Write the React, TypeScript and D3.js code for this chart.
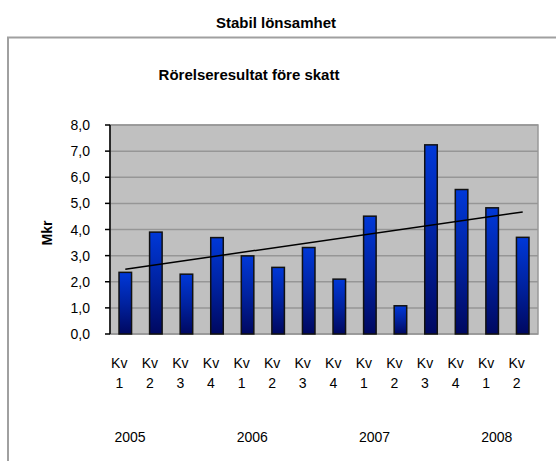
import React from "react";
import * as d3 from "d3";

// data
const quarters = ["1", "2", "3", "4", "1", "2", "3", "4", "1", "2", "3", "4", "1", "2"];
const years = ["2005", "2006", "2007", "2008"];
const values = [2.36, 3.9, 2.29, 3.69, 2.99, 2.55, 3.31, 2.1, 4.51, 1.08, 7.24, 5.53, 4.83, 3.7];
const yTicks = [0, 1, 2, 3, 4, 5, 6, 7, 8];

const W = 556;
const H = 461;
const plot = { left: 110, right: 538, top: 125, bottom: 334 };
const font = "Liberation Sans, Arial, sans-serif";

export default function App() {
  const idx = values.map((_, i) => i);
  const x = d3
    .scaleBand<number>()
    .domain(idx)
    .range([plot.left, plot.right])
    .paddingInner(0.59)
    .paddingOuter(0.295);
  const step = x.step();
  const y = d3.scaleLinear().domain([0, 8]).range([plot.bottom, plot.top]);

  // linear trend line (least squares)
  const mx = d3.mean(idx) as number;
  const my = d3.mean(values) as number;
  const sxy = d3.sum(idx, (i) => (i - mx) * (values[i] - my));
  const sxx = d3.sum(idx, (i) => (i - mx) * (i - mx));
  const slope = sxy / sxx;
  const icpt = my - slope * mx;
  const cx = (i: number) => (x(i) as number) + x.bandwidth() / 2;
  const trend = d3
    .line<number>()
    .x((i) => cx(i))
    .y((i) => y(icpt + slope * i));

  const fmt = (v: number) => v.toFixed(1).replace(".", ",");

  return (
    <svg
      width={W}
      height={H}
      style={{ position: "absolute", left: 0, top: 0, background: "#fff" }}
    >
      <defs>
        <linearGradient id="barGrad" x1="0" y1="0" x2="0" y2="1">
          <stop offset="0%" stopColor="#0038d8" />
          <stop offset="50%" stopColor="#0022a0" />
          <stop offset="100%" stopColor="#000860" />
        </linearGradient>
      </defs>

      <text
        x={276}
        y={28}
        textAnchor="middle"
        fontFamily={font}
        fontWeight="bold"
        fontSize={15}
      >
        Stabil lönsamhet
      </text>

      <rect x={8} y={37.5} width={600} height={500} fill="none" stroke="#a0a0a0" strokeWidth={2} />

      <text
        x={249}
        y={80}
        textAnchor="middle"
        fontFamily={font}
        fontWeight="bold"
        fontSize={15}
      >
        Rörelseresultat före skatt
      </text>

      {/* plot area */}
      <rect
        x={plot.left}
        y={plot.top}
        width={plot.right - plot.left}
        height={plot.bottom - plot.top}
        fill="#c0c0c0"
        stroke="#999"
        strokeWidth={1.5}
      />
      {yTicks.map((t) => (
        <g key={t}>
          <line x1={plot.left} x2={plot.right} y1={y(t)} y2={y(t)} stroke="#969696" strokeWidth={1.5} />
          <line x1={plot.left - 5} x2={plot.left} y1={y(t)} y2={y(t)} stroke="#000" strokeWidth={1.5} />
          <text
            x={plot.left - 20}
            y={y(t)}
            dy="0.36em"
            textAnchor="end"
            fontFamily={font}
            fontSize={14}
          >
            {fmt(t)}
          </text>
        </g>
      ))}
      <line x1={plot.left} x2={plot.left} y1={plot.top} y2={plot.bottom} stroke="#000" strokeWidth={1.5} />

      {values.map((v, i) => (
        <rect
          key={i}
          x={x(i)}
          y={y(v)}
          width={x.bandwidth()}
          height={plot.bottom - y(v)}
          fill="url(#barGrad)"
          stroke="#111"
          strokeWidth={1.5}
        />
      ))}

      <path d={trend([0, values.length - 1]) as string} fill="none" stroke="#000" strokeWidth={1.5} />

      <text
        transform={`translate(52,233) rotate(-90)`}
        textAnchor="middle"
        fontFamily={font}
        fontWeight="bold"
        fontSize={14}
      >
        Mkr
      </text>

      {quarters.map((q, i) => (
        <g key={i} fontFamily={font} fontSize={14} textAnchor="middle">
          <text x={cx(i) - 6} y={368}>Kv</text>
          <text x={cx(i) - 6} y={388}>{q}</text>
        </g>
      ))}

      {years.map((yr, j) => (
        <text
          key={yr}
          x={plot.left + j * 4 * step + 20}
          y={442}
          textAnchor="middle"
          fontFamily={font}
          fontSize={14}
        >
          {yr}
        </text>
      ))}
    </svg>
  );
}
